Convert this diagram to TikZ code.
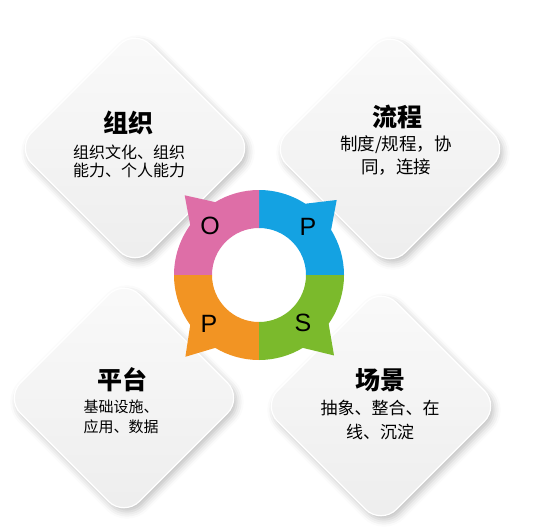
\documentclass[tikz,border=0pt]{standalone}
\usepackage{fontspec}
\setsansfont{Liberation Sans}
\newfontfamily\cjk{Noto Sans CJK SC}
\usepackage{tikz}
\usetikzlibrary{shadows.blur}

\definecolor{opsPink}{HTML}{DE6EA7}
\definecolor{opsBlue}{HTML}{14A2E2}
\definecolor{opsGreen}{HTML}{7BBA2C}
\definecolor{opsOrange}{HTML}{F29423}

\begin{document}
\begin{tikzpicture}[x=1pt,y=1pt]
          \tikzstyle{tile}=[rectangle,rotate=45,minimum size=168pt,rounded corners=22pt,draw=white,line width=1.2pt,
            top color=black!2,bottom color=black!7,blur shadow={shadow xshift=3pt,shadow yshift=-4pt,shadow blur radius=7pt,shadow opacity=25}]
          \tikzstyle{head}=[font=\cjk\bfseries\fontsize{25pt}{30pt}\selectfont]
          \tikzstyle{body}=[align=center,inner sep=0pt]
          \tikzstyle{letter}=[font=\sffamily\fontsize{25pt}{25pt}\selectfont]

          \useasboundingbox (0,0) rectangle (537,531);

          % four tiles
          \node[tile](t1) at (135,383){};
          \node[tile](t2) at (390,382){};
          \node[tile](t3) at (124,133){};
          \node[tile](t4) at (381,125){};

          \node[head](h1) at (128,408){组织};
          \node[body,font=\cjk\fontsize{16pt}{18pt}\selectfont](d1) at (129,370){组织文化、组织\\能力、个人能力};
          \node[head](h2) at (397,414){流程};
          \node[body,font=\cjk\fontsize{17.5pt}{23pt}\selectfont](d2) at (396,375){制度/规程，协\\同，连接};
          \node[head](h3) at (122,151){平台};
          \node[body,font=\cjk\fontsize{15pt}{20pt}\selectfont](d3) at (121,114){基础设施、\\应用、数据};
          \node[head](h4) at (380,151){场景};
          \node[body,font=\cjk\fontsize{17pt}{24pt}\selectfont](d4) at (380,111){抽象、整合、在\\线、沉淀};

          % ring
          \begin{scope}[shift={(259,256)}]
            \fill[opsBlue] (0:47) -- (0:85) arc[start angle=0,end angle=32,radius=85] -- (44:108)
              -- (57:85) arc[start angle=57,end angle=90,radius=85] -- (90:47) arc[start angle=90,end angle=0,radius=47] -- cycle;
            \fill[opsPink] (90:47) -- (90:85) arc[start angle=90,end angle=121,radius=85] -- (133:109)
              -- (144:85) arc[start angle=144,end angle=180,radius=85] -- (180:47) arc[start angle=180,end angle=90,radius=47] -- cycle;
            \fill[opsOrange] (180:47) -- (180:85) arc[start angle=180,end angle=216,radius=85] -- (228:110)
              -- (239:85) arc[start angle=239,end angle=270,radius=85] -- (270:47) arc[start angle=270,end angle=180,radius=47] -- cycle;
            \fill[opsGreen] (270:47) -- (270:85) arc[start angle=270,end angle=301,radius=85] -- (313:110)
              -- (325:85) arc[start angle=325,end angle=360,radius=85] -- (0:47) arc[start angle=360,end angle=270,radius=47] -- cycle;

            \node[letter](l1) at (-49,49){O};
            \node[letter](l2) at (49,48){P};
            \node[letter](l3) at (-50,-49){P};
            \node[letter](l4) at (44,-48){S};
          \end{scope}
        \end{tikzpicture}
\end{document}
